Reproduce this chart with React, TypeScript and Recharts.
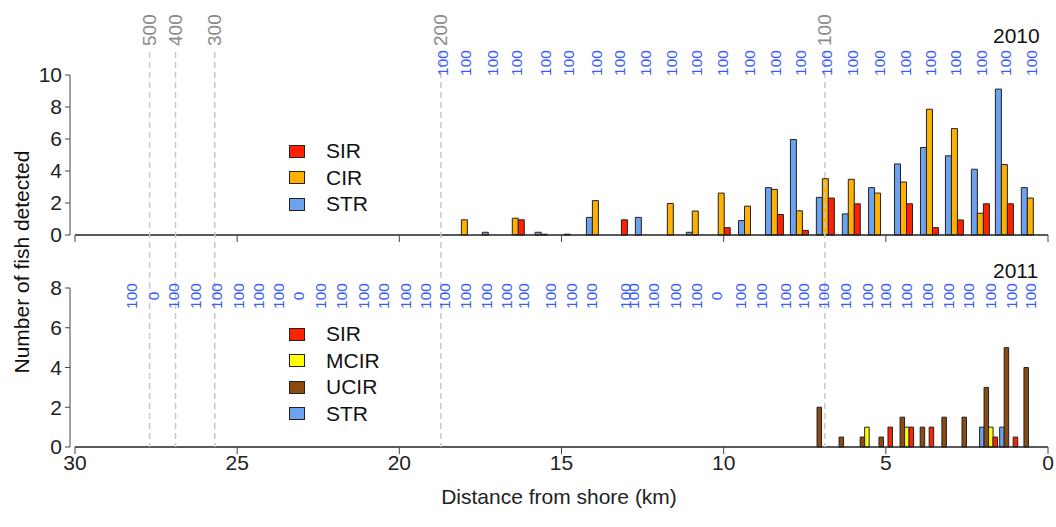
import React from 'react';
import { BarChart, Bar, XAxis, YAxis, ReferenceLine, Legend } from 'recharts';

const FONT = '"Liberation Sans", Arial, Helvetica, sans-serif';
const _ = null;

// x axis (distance from shore, km), drawn right to left
const X_DOMAIN: [number, number] = [0, 30];
const X_TICKS = [0, 5, 10, 15, 20, 25, 30];

// depth contours (m) and where they cross the transect (km)
const contourDepth = ['500', '400', '300', '200', '100'];
const contourDist = [27.7, 26.9, 25.69, 18.72, 6.88];

// 2010 receiver stations
const dist2010 = [18.72, 18.01, 17.18, 16.44, 15.55, 14.84, 13.97, 13.26, 12.46, 11.66, 10.89, 10.09,
  9.28, 8.45, 7.68, 6.88, 6.08, 5.27, 4.47, 3.67, 2.9, 2.1, 1.36, 0.56];
const eff2010 = ['100', '100', '100', '100', '100', '100', '100', '100', '100', '100', '100', '100',
  '100', '100', '100', '100', '100', '100', '100', '100', '100', '100', '100', '100'];
const str2010 = [_, _, 0.17, _, 0.17, _, 1.1, _, 1.1, _, 0.17, _,
  0.9, 2.96, 5.97, 2.35, 1.32, 2.96, 4.44, 5.47, 4.95, 4.11, 9.12, 2.96];
const cir2010 = [_, 0.95, _, 1.05, 0.05, 0.05, 2.15, _, _, 1.97, 1.5, 2.62,
  1.8, 2.85, 1.51, 3.52, 3.48, 2.62, 3.31, 7.86, 6.65, 1.36, 4.4, 2.31];
const sir2010 = [_, _, _, 0.95, _, _, _, 0.95, _, _, _, 0.46,
  _, 1.28, 0.29, 2.31, 1.95, _, 1.95, 0.46, 0.94, 1.95, 1.95, _];

// 2011 receiver stations
const dist2011 = [28.32, 27.64, 27.02, 26.34, 25.69, 25.02, 24.4, 23.78, 23.16, 22.49, 21.84,
  21.16, 20.54, 19.86, 19.25, 18.66, 18.01, 17.37, 16.75, 16.22, 15.39, 14.74,
  14.13, 13.08, 12.83, 12.21, 11.54, 10.89, 10.27, 9.53, 8.91, 8.14, 7.59,
  6.97, 6.29, 5.64, 5.06, 4.41, 3.79, 3.12, 2.5, 1.82, 1.2, 0.59];
const eff2011 = ['100', '0', '100', '100', '100', '100', '100', '100', '0', '100', '100',
  '100', '100', '100', '100', '100', '100', '100', '100', '100', '100', '100',
  '100', '100', '100', '100', '100', '100', '0', '100', '100', '100', '100',
  '100', '100', '100', '100', '100', '100', '100', '100', '100', '100', '100'];
const str2011 = [_, _, _, _, _, _, _, _, _, _, _,
  _, _, _, _, _, _, _, _, _, _, _,
  _, _, _, _, _, _, _, _, _, _, _,
  _, _, _, _, _, _, _, _, 1, 1, _];
const ucir2011 = [_, _, _, _, _, _, _, _, _, _, _,
  _, _, _, _, _, _, _, _, _, _, _,
  _, _, _, _, _, _, _, _, _, _, _,
  2, 0.5, 0.5, 0.5, 1.5, 1, 1.5, 1.5, 3, 5, 4];
const mcir2011 = [_, _, _, _, _, _, _, _, _, _, _,
  _, _, _, _, _, _, _, _, _, _, _,
  _, _, _, _, _, _, _, _, _, _, _,
  _, _, 1, _, 1, _, _, _, 1, _, _];
const sir2011 = [_, _, _, _, _, _, _, _, _, _, _,
  _, _, _, _, _, _, _, _, _, _, _,
  _, _, _, _, _, _, _, _, _, _, _,
  _, _, _, 1, 1, 1, _, _, 0.5, 0.5, _];

const COLORS = { SIR: '#ff2200', CIR: '#ffb000', STR: '#6ca2ee', MCIR: '#ffff00', UCIR: '#8b4a10' };

const rows2010 = dist2010.map((d, i) => ({ dist: d, STR: str2010[i], CIR: cir2010[i], SIR: sir2010[i] }));
// only stations with detections carry bars (keeps recharts' band size sane)
const rows2011 = dist2011
  .map((d, i) => ({ dist: d, STR: str2011[i], UCIR: ucir2011[i], MCIR: mcir2011[i], SIR: sir2011[i] }))
  .filter((r) => r.STR != null || r.UCIR != null || r.MCIR != null || r.SIR != null);

// how far the dashed contour lines run, in each panel's own y units
const TOP_SPAN: [number, number] = [11.44, -3];
const BOT_SPAN: [number, number] = [8.25, 0];

const axisText = { fill: '#222', fontSize: 21, fontFamily: FONT };

const EffTick = (props: any) => {
  const { x, y, payload, dists, labels, shift } = props;
  const i = dists.indexOf(payload.value);
  const cx = x + 2;
  const cy = y + shift;
  return (
    <text x={cx} y={cy} transform={`rotate(-90 ${cx} ${cy})`} textAnchor="middle"
      dominantBaseline="central" fill="#3a5cff" fontSize={15.5} fontFamily={FONT}>
      {labels[i]}
    </text>
  );
};

const DepthLabel = (props: any) => {
  const { viewBox, value } = props;
  const x = viewBox.x;
  const y = viewBox.y - 6;
  return (
    <text x={x} y={y} transform={`rotate(-90 ${x} ${y})`} textAnchor="start"
      dominantBaseline="central" fill="#8a8a8a" fontSize={19} fontFamily={FONT}>
      {value}
    </text>
  );
};

const LegendBox = (props: any) => {
  const { payload, order } = props;
  const items = order.map((n: string) => (payload || []).find((p: any) => p.value === n)).filter(Boolean);
  return (
    <div style={{ fontFamily: FONT, fontSize: 21, color: '#111' }}>
      {items.map((p: any) => (
        <div key={p.value} style={{ display: 'flex', alignItems: 'center', height: 26.5 }}>
          <span style={{
            width: 16, height: 13, boxSizing: 'border-box', border: '1px solid #222',
            background: p.color, marginRight: 21, display: 'inline-block',
          }} />
          <span>{p.value}</span>
        </div>
      ))}
    </div>
  );
};

function contourLines(span: [number, number], withLabels: boolean) {
  return contourDist.map((d, i) => (
    <ReferenceLine key={contourDepth[i]} xAxisId="x" ifOverflow="visible"
      segment={[{ x: d, y: span[0] }, { x: d, y: span[1] }]}
      stroke="#c8c8c8" strokeWidth={1.5} strokeDasharray="6 4"
      label={withLabels ? { value: contourDepth[i], content: DepthLabel } : undefined} />
  ));
}

function Panel2010() {
  return (
    <BarChart width={1056} height={283} data={rows2010} barGap={0}
      margin={{ top: 0, right: 8, bottom: 0, left: 0 }} style={{ overflow: 'visible' }}>
      <XAxis xAxisId="lab" orientation="top" type="number" dataKey="dist" domain={X_DOMAIN} reversed
        padding={{ left: 5, right: 0 }} ticks={dist2010} interval={0} height={75}
        axisLine={false} tickLine={false} tickSize={0} tickMargin={0}
        tick={(p: any) => <EffTick {...p} dists={dist2010} labels={eff2010} shift={-12} />} />
      <XAxis xAxisId="x" type="number" dataKey="dist" domain={X_DOMAIN} reversed
        padding={{ left: 5, right: 0 }} ticks={X_TICKS} interval={0} height={48}
        axisLine={false} tickLine={{ stroke: '#444' }} tickSize={7} tickFormatter={() => ''} />
      <YAxis type="number" domain={[0, 10]} ticks={[0, 2, 4, 6, 8, 10]} interval={0} width={70}
        tickSize={5} tickMargin={3} axisLine={{ stroke: '#444' }} tickLine={{ stroke: '#444' }} tick={axisText} />
      <Bar xAxisId="x" dataKey="STR" name="STR" fill={COLORS.STR} stroke="#222" strokeWidth={1} barSize={6} isAnimationActive={false} />
      <Bar xAxisId="x" dataKey="CIR" name="CIR" fill={COLORS.CIR} stroke="#222" strokeWidth={1} barSize={6} isAnimationActive={false} />
      <Bar xAxisId="x" dataKey="SIR" name="SIR" fill={COLORS.SIR} stroke="#222" strokeWidth={1} barSize={6} isAnimationActive={false} />
      <ReferenceLine xAxisId="x" segment={[{ x: 30, y: 0 }, { x: 0, y: 0 }]} stroke="#222" strokeWidth={1.5} />
      {contourLines(TOP_SPAN, true)}
      <Legend layout="vertical" align="center" verticalAlign="middle"
        wrapperStyle={{ left: 289, top: 138, width: 120, height: 'auto' }}
        content={(p: any) => <LegendBox {...p} order={['SIR', 'CIR', 'STR']} />} />
    </BarChart>
  );
}

function Panel2011() {
  return (
    <BarChart width={1056} height={277} data={rows2011} barGap={0}
      margin={{ top: 0, right: 8, bottom: 0, left: 0 }}>
      <XAxis xAxisId="lab" orientation="top" type="number" dataKey="dist" domain={X_DOMAIN} reversed
        padding={{ left: 5, right: 0 }} ticks={dist2011} interval={0} height={38}
        axisLine={false} tickLine={false} tickSize={0} tickMargin={0}
        tick={(p: any) => <EffTick {...p} dists={dist2011} labels={eff2011} shift={8} />} />
      <XAxis xAxisId="x" type="number" dataKey="dist" domain={X_DOMAIN} reversed
        padding={{ left: 5, right: 0 }} ticks={X_TICKS} interval={0} height={80}
        axisLine={false} tickLine={{ stroke: '#444' }} tickSize={7} tickMargin={1} tick={axisText}
        label={{ value: 'Distance from shore (km)', position: 'insideBottom', offset: 23, ...axisText }} />
      <YAxis type="number" domain={[0, 8]} ticks={[0, 2, 4, 6, 8]} interval={0} width={70}
        tickSize={5} tickMargin={3} axisLine={{ stroke: '#444' }} tickLine={{ stroke: '#444' }} tick={axisText} />
      <Bar xAxisId="x" dataKey="STR" name="STR" fill={COLORS.STR} stroke="#222" strokeWidth={1} barSize={4.5} isAnimationActive={false} />
      <Bar xAxisId="x" dataKey="UCIR" name="UCIR" fill={COLORS.UCIR} stroke="#222" strokeWidth={1} barSize={4.5} isAnimationActive={false} />
      <Bar xAxisId="x" dataKey="MCIR" name="MCIR" fill={COLORS.MCIR} stroke="#222" strokeWidth={1} barSize={4.5} isAnimationActive={false} />
      <Bar xAxisId="x" dataKey="SIR" name="SIR" fill={COLORS.SIR} stroke="#222" strokeWidth={1} barSize={4.5} isAnimationActive={false} />
      <ReferenceLine xAxisId="x" segment={[{ x: 30, y: 0 }, { x: 0, y: 0 }]} stroke="#222" strokeWidth={1.5} />
      {contourLines(BOT_SPAN, false)}
      <Legend layout="vertical" align="center" verticalAlign="middle"
        wrapperStyle={{ left: 289, top: 71, width: 120, height: 'auto' }}
        content={(p: any) => <LegendBox {...p} order={['SIR', 'MCIR', 'UCIR', 'STR']} />} />
    </BarChart>
  );
}

export default function App() {
  return (
    <div style={{ position: 'absolute', left: 0, top: 0, width: 1056, height: 527, background: '#fff', overflow: 'hidden', fontFamily: FONT }}>
      <div style={{ position: 'absolute', left: 0, top: 250 }}><Panel2011 /></div>
      <div style={{ position: 'absolute', left: 0, top: 0 }}><Panel2010 /></div>
      <div style={{ position: 'absolute', left: 993, top: 25, fontSize: 21, lineHeight: 1, color: '#111' }}>2010</div>
      <div style={{ position: 'absolute', left: 993, top: 260, fontSize: 21, lineHeight: 1, color: '#111' }}>2011</div>
      <div style={{
        position: 'absolute', left: 22 - 150, top: 262 - 12, width: 300, height: 24, lineHeight: '24px',
        textAlign: 'center', fontSize: 21, color: '#111', transform: 'rotate(-90deg)',
      }}>Number of fish detected</div>
    </div>
  );
}
